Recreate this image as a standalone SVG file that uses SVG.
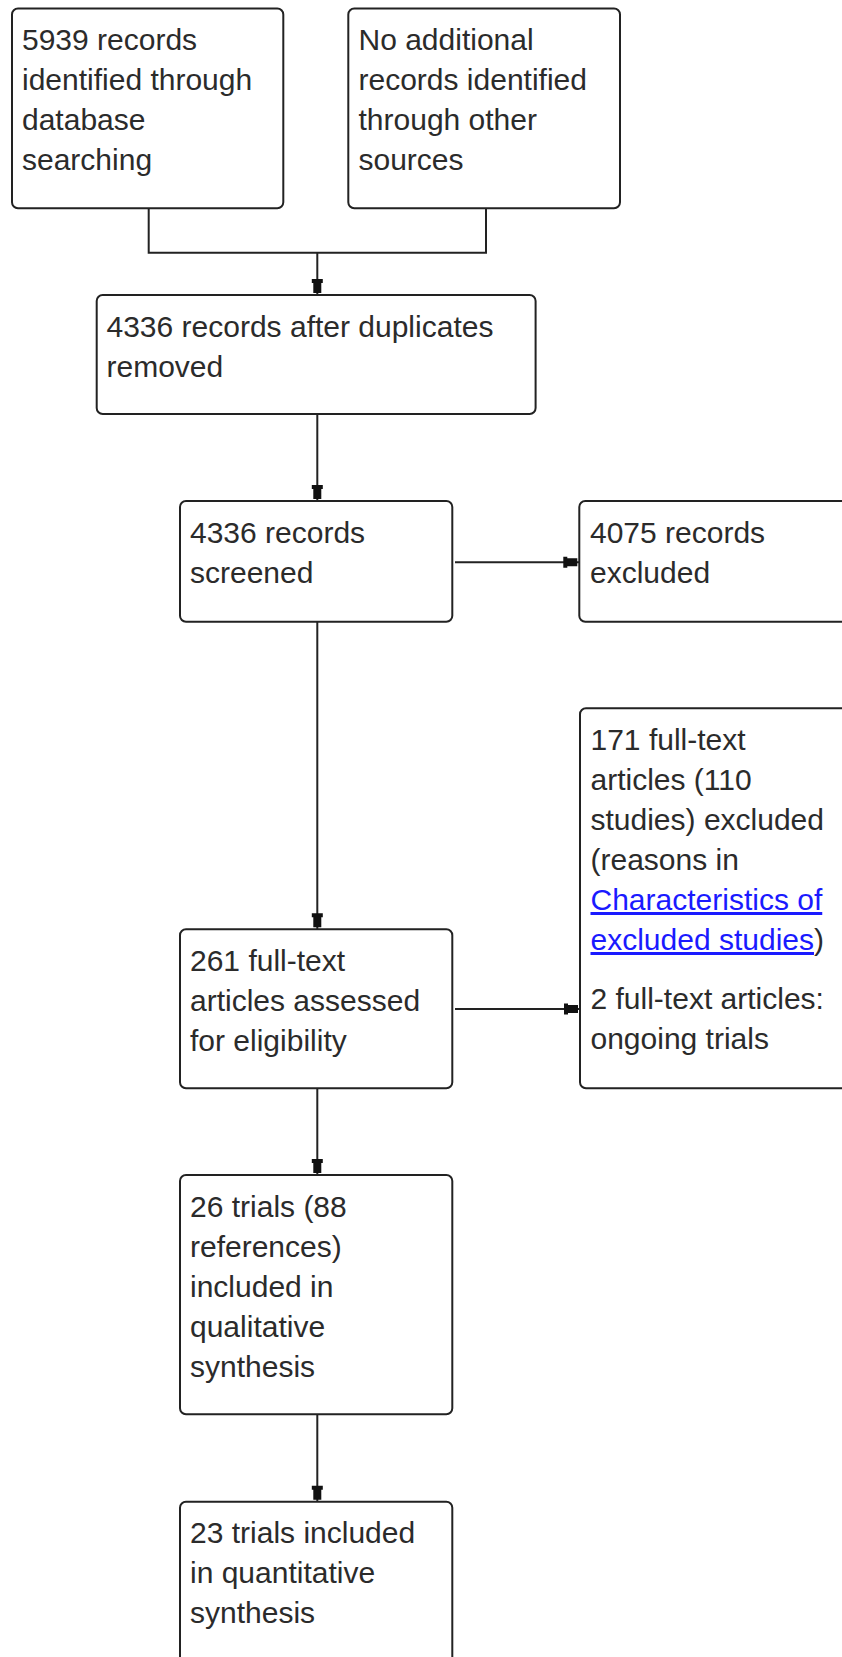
<svg xmlns="http://www.w3.org/2000/svg" width="842" height="1657" viewBox="0 0 842 1657">
<style>
.box{fill:#fff;stroke:#222;stroke-width:2}
.t{font-family:"Liberation Sans",Arial,sans-serif;font-size:30px;fill:#2b2b2b}
.link{fill:#1a1aff;text-decoration:underline}
.c{fill:none;stroke:#222;stroke-width:2}
</style>
<defs>
<marker id="ah" markerUnits="userSpaceOnUse" viewBox="-17 -6 17 12" markerWidth="17" markerHeight="12" refX="0" refY="0" orient="auto">
<path d="M-16,-5.5 L-12,-5.5 L-12,-4 L-2,-4 L-2,4 L-12,4 L-12,5.5 L-16,5.5 Z" fill="#111"/>
</marker>
</defs>
<rect width="842" height="1657" fill="#fff"/>
<g id="connectors">
<path class="c" d="M148.7,208.3 V252.7 H486 V208.3"/>
<path class="c" d="M317.3,252.7 V295" marker-end="url(#ah)"/>
<path class="c" d="M317.3,414 V501" marker-end="url(#ah)"/>
<path class="c" d="M455,562.3 H579.3" marker-end="url(#ah)"/>
<path class="c" d="M317.3,621.7 V929.3" marker-end="url(#ah)"/>
<path class="c" d="M455,1009 H580" marker-end="url(#ah)"/>
<path class="c" d="M317.3,1088.3 V1175" marker-end="url(#ah)"/>
<path class="c" d="M317.3,1414.3 V1501.7" marker-end="url(#ah)"/>
</g>
<g id="n1">
<rect class="box" x="12" y="8.5" width="271.3" height="199.8" rx="6"/>
<text class="t" x="22" y="50">5939 records</text>
<text class="t" x="22" y="90">identified through</text>
<text class="t" x="22" y="130">database</text>
<text class="t" x="22" y="170">searching</text>
</g>
<g id="n2">
<rect class="box" x="348.3" y="8.5" width="271.7" height="199.8" rx="6"/>
<text class="t" x="358.5" y="50">No additional</text>
<text class="t" x="358.5" y="90">records identified</text>
<text class="t" x="358.5" y="130">through other</text>
<text class="t" x="358.5" y="170">sources</text>
</g>
<g id="n3">
<rect class="box" x="96.7" y="295" width="438.9" height="119" rx="6"/>
<text class="t" x="106.5" y="336.5">4336 records after duplicates</text>
<text class="t" x="106.5" y="376.5">removed</text>
</g>
<g id="n4">
<rect class="box" x="180" y="501" width="272.3" height="120.7" rx="6"/>
<text class="t" x="190" y="542.5">4336 records</text>
<text class="t" x="190" y="582.5">screened</text>
</g>
<g id="n5">
<rect class="box" x="579.3" y="501" width="290" height="120.7" rx="6"/>
<text class="t" x="590" y="542.5">4075 records</text>
<text class="t" x="590" y="582.5">excluded</text>
</g>
<g id="n6">
<rect class="box" x="180" y="929.3" width="272.3" height="159" rx="6"/>
<text class="t" x="190" y="970.8">261 full-text</text>
<text class="t" x="190" y="1010.8">articles assessed</text>
<text class="t" x="190" y="1050.8">for eligibility</text>
</g>
<g id="n7">
<rect class="box" x="580" y="708.3" width="290" height="380" rx="6"/>
<text class="t" x="590.5" y="750">171 full-text</text>
<text class="t" x="590.5" y="790">articles (110</text>
<text class="t" x="590.5" y="830">studies) excluded</text>
<text class="t" x="590.5" y="870">(reasons in</text>
<text class="t" x="590.5" y="910"><tspan class="link">Characteristics of</tspan></text>
<text class="t" x="590.5" y="950"><tspan class="link">excluded studies</tspan>)</text>
<text class="t" x="590.5" y="1009">2 full-text articles:</text>
<text class="t" x="590.5" y="1049">ongoing trials</text>
</g>
<g id="n8">
<rect class="box" x="180" y="1175" width="272.3" height="239.3" rx="6"/>
<text class="t" x="190" y="1216.5">26 trials (88</text>
<text class="t" x="190" y="1256.5">references)</text>
<text class="t" x="190" y="1296.5">included in</text>
<text class="t" x="190" y="1336.5">qualitative</text>
<text class="t" x="190" y="1376.5">synthesis</text>
</g>
<g id="n9">
<rect class="box" x="180" y="1501.7" width="272.3" height="200" rx="6"/>
<text class="t" x="190" y="1543.2">23 trials included</text>
<text class="t" x="190" y="1583.2">in quantitative</text>
<text class="t" x="190" y="1623.2">synthesis</text>
</g>
</svg>
